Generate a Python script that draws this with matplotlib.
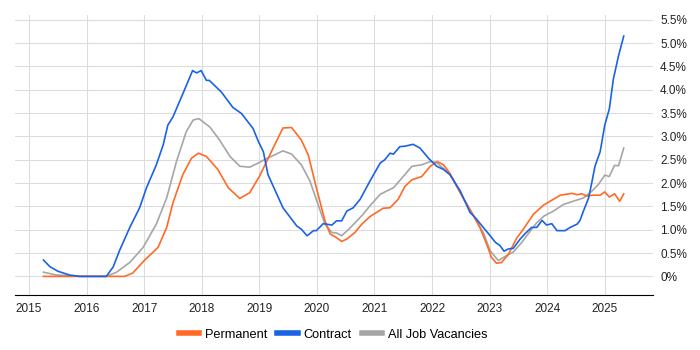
import matplotlib
matplotlib.use("Agg")
import matplotlib.pyplot as plt
from matplotlib.ticker import FuncFormatter

plt.rcParams["font.family"] = ["Liberation Sans", "DejaVu Sans"]

# decimal year, value (%)
perm_x = [2015.25, 2015.5, 2016.0, 2016.5, 2016.66, 2016.8, 2017.0, 2017.24, 2017.39,
          2017.5, 2017.67, 2017.82, 2017.94, 2018.08, 2018.28, 2018.46, 2018.66,
          2018.83, 2019.0, 2019.18, 2019.41, 2019.56, 2019.73, 2019.85, 2019.99,
          2020.14, 2020.23, 2020.34, 2020.43, 2020.52, 2020.66, 2020.78, 2020.92,
          2021.15, 2021.27, 2021.41, 2021.53, 2021.65, 2021.82, 2021.97, 2022.09,
          2022.2, 2022.31, 2022.54, 2022.72, 2022.83, 2022.95, 2023.03, 2023.12,
          2023.21, 2023.33, 2023.47, 2023.58, 2023.76, 2023.94, 2024.05, 2024.23,
          2024.43, 2024.52, 2024.6, 2024.69, 2024.78, 2024.92, 2025.0, 2025.08,
          2025.17, 2025.26, 2025.33]
perm_y = [0.0, 0.0, 0.0, 0.0, 0.0, 0.07, 0.34, 0.62, 1.05,
          1.58, 2.18, 2.53, 2.64, 2.57, 2.29, 1.9, 1.67,
          1.79, 2.14, 2.6, 3.18, 3.19, 2.92, 2.6, 1.9,
          1.19, 0.91, 0.83, 0.75, 0.8, 0.94, 1.12, 1.28,
          1.46, 1.47, 1.65, 1.93, 2.07, 2.14, 2.36, 2.46,
          2.39, 2.21, 1.68, 1.3, 1.05, 0.69, 0.41, 0.28,
          0.3, 0.48, 0.82, 1.0, 1.33, 1.53, 1.61, 1.74,
          1.78, 1.75, 1.77, 1.72, 1.74, 1.74, 1.81, 1.7,
          1.77, 1.61, 1.77]

contract_x = [2015.25, 2015.36, 2015.5, 2015.7, 2015.88, 2016.34, 2016.46, 2016.57,
              2016.75, 2016.92, 2017.04, 2017.21, 2017.33, 2017.41, 2017.5, 2017.67,
              2017.84, 2017.91, 2017.99, 2018.08, 2018.13, 2018.34, 2018.54, 2018.69,
              2018.89, 2018.98, 2019.07, 2019.15, 2019.41, 2019.65, 2019.73, 2019.83,
              2019.94, 2019.99, 2020.11, 2020.26, 2020.34, 2020.43, 2020.52, 2020.63,
              2020.75, 2020.92, 2021.1, 2021.18, 2021.27, 2021.33, 2021.44, 2021.53,
              2021.67, 2021.79, 2021.94, 2022.08, 2022.2, 2022.31, 2022.49, 2022.66,
              2022.75, 2022.89, 2023.01, 2023.1, 2023.18, 2023.25, 2023.33, 2023.41,
              2023.53, 2023.62, 2023.73, 2023.82, 2023.91, 2023.99, 2024.08, 2024.17,
              2024.31, 2024.4, 2024.52, 2024.57, 2024.63, 2024.72, 2024.78, 2024.83,
              2024.92, 2025.0, 2025.08, 2025.15, 2025.24, 2025.33]
contract_y = [0.35, 0.21, 0.11, 0.03, 0.0, 0.0, 0.2, 0.55,
              1.05, 1.47, 1.9, 2.39, 2.82, 3.24, 3.42, 3.91,
              4.41, 4.36, 4.41, 4.2, 4.2, 3.95, 3.62, 3.49,
              3.17, 2.9, 2.67, 2.18, 1.47, 1.08, 1.01, 0.87,
              0.98, 0.98, 1.13, 1.1, 1.19, 1.19, 1.4, 1.47,
              1.65, 2.04, 2.43, 2.5, 2.64, 2.62, 2.78, 2.79,
              2.83, 2.75, 2.53, 2.36, 2.29, 2.18, 1.83, 1.37,
              1.26, 1.05, 0.87, 0.73, 0.66, 0.54, 0.59, 0.6,
              0.8, 0.92, 1.05, 1.05, 1.2, 1.1, 1.13, 0.98,
              0.98, 1.05, 1.12, 1.2, 1.4, 1.68, 2.04, 2.36,
              2.67, 3.24, 3.59, 4.23, 4.73, 5.15]

all_x = [2015.25, 2015.47, 2015.9, 2016.34, 2016.52, 2016.75, 2016.98, 2017.21,
         2017.39, 2017.56, 2017.73, 2017.85, 2017.95, 2018.14, 2018.31, 2018.49,
         2018.66, 2018.83, 2018.95, 2019.12, 2019.41, 2019.56, 2019.73, 2019.88,
         2020.02, 2020.14, 2020.26, 2020.34, 2020.43, 2020.57, 2020.78, 2020.92,
         2021.1, 2021.33, 2021.5, 2021.65, 2021.82, 2021.97, 2022.08, 2022.31,
         2022.54, 2022.72, 2022.89, 2023.01, 2023.15, 2023.3, 2023.41, 2023.56,
         2023.7, 2023.82, 2023.94, 2024.11, 2024.28, 2024.45, 2024.63, 2024.78,
         2024.89, 2025.0, 2025.08, 2025.17, 2025.24, 2025.33]
all_y = [0.09, 0.03, 0.0, 0.0, 0.09, 0.3, 0.62, 1.12,
         1.68, 2.46, 3.1, 3.35, 3.38, 3.2, 2.92, 2.57,
         2.36, 2.34, 2.41, 2.52, 2.69, 2.62, 2.39, 2.04,
         1.54, 1.12, 0.94, 0.93, 0.87, 1.03, 1.3, 1.51,
         1.76, 1.9, 2.14, 2.36, 2.39, 2.46, 2.44, 2.19,
         1.68, 1.3, 0.94, 0.55, 0.34, 0.45, 0.52, 0.73,
         0.96, 1.15, 1.29, 1.4, 1.54, 1.61, 1.68, 1.83,
         1.97, 2.17, 2.14, 2.38, 2.37, 2.75]

years = list(range(2015, 2026))
pct_ticks = [v * 0.5 for v in range(12)]

fig = plt.figure(figsize=(7, 3.5), dpi=100)
ax = fig.add_axes([0.021, 0.157, 0.912, 0.80])

ax.plot(all_x, all_y, color="#a6a6a6", lw=1.2, label="All Job Vacancies", zorder=3)
ax.plot(perm_x, perm_y, color="#ff6a26", lw=1.2, label="Permanent", zorder=4)
ax.plot(contract_x, contract_y, color="#1a62e6", lw=1.2, label="Contract", zorder=5)

ax.set_xlim(2014.75, 2025.84)
ax.set_ylim(-0.4, 5.6)
ax.set_xticks(years)
ax.set_xticklabels([str(y) for y in years])
ax.set_yticks(pct_ticks)
ax.yaxis.set_major_formatter(
    FuncFormatter(lambda v, p: "0%" if abs(v) < 1e-9 else f"{v:.1f}%"))
ax.yaxis.tick_right()

ax.grid(True, color="#dddddd", lw=0.8)
ax.set_axisbelow(True)
for s in ["top", "left", "right"]:
    ax.spines[s].set_visible(False)
ax.spines["bottom"].set_color("black")
ax.tick_params(axis="both", length=0, labelsize=8.5, colors="#222222")
ax.tick_params(axis="x", pad=6)
ax.tick_params(axis="y", pad=5)

h, l = ax.get_legend_handles_labels()
order = [1, 2, 0]
leg = fig.legend([h[i] for i in order], [l[i] for i in order], loc="center",
                 bbox_to_anchor=(0.476, 0.043), ncol=3, frameon=False,
                 fontsize=9.2, handlelength=1.6, handletextpad=0.45, columnspacing=0.8)
for line in leg.get_lines():
    line.set_linewidth(4)

fig.savefig("out.png", dpi=100)
